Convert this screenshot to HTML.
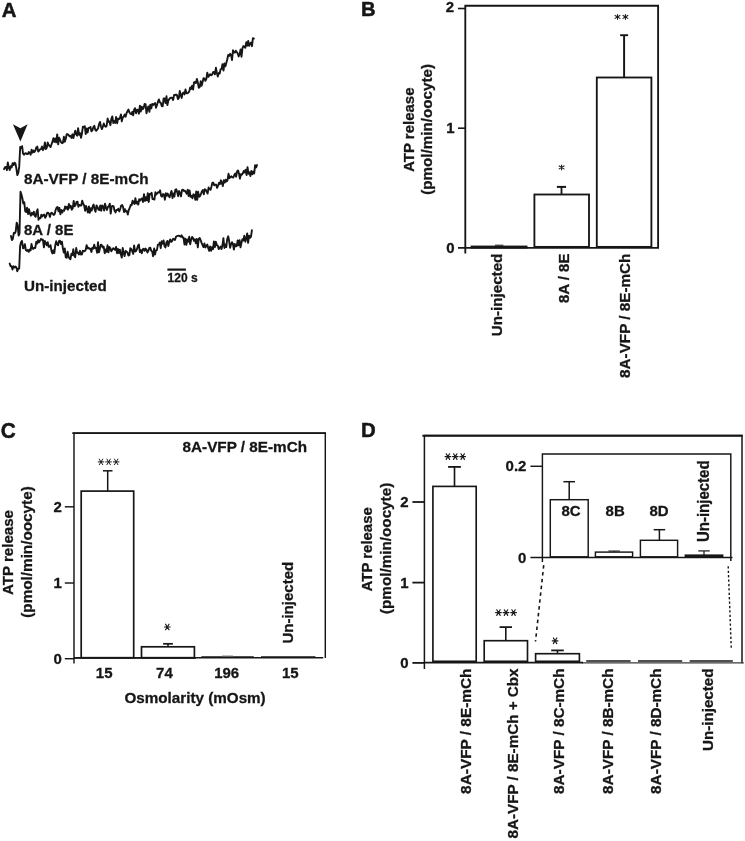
<!DOCTYPE html>
<html><head><meta charset="utf-8"><title>Figure</title>
<style>html,body{margin:0;padding:0;background:#fff}svg{display:block;will-change:transform}text{font-family:"Liberation Sans",sans-serif}</style>
</head><body>
<svg width="745" height="841" viewBox="0 0 745 841">
<rect width="745" height="841" fill="#fff"/>
<text x="1.7" y="16.5" font-size="21.08" font-weight="bold" text-anchor="start" fill="#161616" stroke="#161616" stroke-width="0.5" font-family="Liberation Sans, sans-serif" textLength="14.73" lengthAdjust="spacingAndGlyphs">A</text>
<path d="M4.0 169.2 L5.0 167.2 L5.9 167.0 L6.9 170.2 L7.8 162.5 L8.8 167.8 L9.7 170.0 L10.7 166.1 L11.6 167.5 L12.6 163.2 L13.5 165.1 L14.5 162.7 L15.4 163.5 L16.4 168.6 L17.3 175.1 L18.3 172.8 L19.2 166.9 L20.2 147.0 L21.1 148.0 L22.1 146.2 L23.0 153.4 L24.0 154.8 L24.9 153.4 L25.9 153.3 L26.8 154.0 L27.8 154.1 L28.7 152.0 L29.7 152.9 L30.6 154.7 L31.6 149.8 L32.5 152.7 L33.5 150.5 L34.4 152.0 L35.4 150.4 L36.3 147.5 L37.3 146.6 L38.2 151.6 L39.2 150.5 L40.1 149.4 L41.1 149.0 L42.0 146.6 L43.0 150.2 L43.9 148.2 L44.9 142.5 L45.8 149.1 L46.8 147.7 L47.7 142.5 L48.7 145.0 L49.6 146.0 L50.6 147.0 L51.5 144.3 L52.5 141.7 L53.4 138.2 L54.4 141.9 L55.3 138.5 L56.3 142.4 L57.2 134.4 L58.2 144.4 L59.1 137.7 L60.1 139.8 L61.0 142.1 L62.0 143.1 L62.9 142.9 L63.9 136.6 L64.8 141.8 L65.8 138.7 L66.7 134.2 L67.7 134.1 L68.6 135.0 L69.6 136.4 L70.5 135.9 L71.5 137.9 L72.4 134.3 L73.4 138.0 L74.3 134.2 L75.3 130.6 L76.2 134.4 L77.2 135.7 L78.1 128.1 L79.1 134.9 L80.0 133.2 L81.0 137.7 L81.9 133.7 L82.9 126.7 L83.8 127.2 L84.8 126.2 L85.7 134.0 L86.7 128.4 L87.6 132.5 L88.6 127.9 L89.5 127.9 L90.5 126.9 L91.4 131.4 L92.4 130.4 L93.3 127.3 L94.3 125.8 L95.2 129.6 L96.2 130.8 L97.1 129.7 L98.1 128.2 L99.0 124.4 L100.0 121.9 L100.9 126.2 L101.9 129.1 L102.8 126.8 L103.8 123.5 L104.7 125.9 L105.7 126.8 L106.6 126.1 L107.6 118.5 L108.5 121.9 L109.5 121.5 L110.4 125.2 L111.4 118.5 L112.3 116.4 L113.3 123.0 L114.2 121.0 L115.2 122.9 L116.1 117.0 L117.1 123.2 L118.0 118.7 L119.0 119.1 L119.9 117.9 L120.9 114.4 L121.8 121.4 L122.8 117.2 L123.7 116.6 L124.7 114.5 L125.6 116.7 L126.6 113.0 L127.5 111.3 L128.5 109.5 L129.4 112.5 L130.4 113.7 L131.3 114.2 L132.3 111.8 L133.2 115.4 L134.2 109.3 L135.1 108.2 L136.1 113.2 L137.0 109.9 L138.0 109.6 L138.9 113.7 L139.9 105.7 L140.8 111.6 L141.8 106.6 L142.7 109.2 L143.7 107.9 L144.6 103.9 L145.6 104.4 L146.5 113.2 L147.5 108.5 L148.4 106.4 L149.4 111.8 L150.3 104.6 L151.3 108.3 L152.2 103.9 L153.2 105.0 L154.1 103.9 L155.1 103.1 L156.0 107.8 L157.0 104.9 L157.9 101.9 L158.9 99.4 L159.8 102.3 L160.8 102.8 L161.7 106.0 L162.7 106.2 L163.6 98.5 L164.6 98.4 L165.5 103.0 L166.5 96.3 L167.4 105.1 L168.4 100.4 L169.3 99.1 L170.3 97.9 L171.2 97.7 L172.2 98.0 L173.1 100.0 L174.1 95.0 L175.0 95.1 L176.0 94.5 L176.9 95.0 L177.9 99.1 L178.8 98.2 L179.8 90.9 L180.7 95.1 L181.7 97.9 L182.6 93.3 L183.6 92.6 L184.5 94.4 L185.5 89.4 L186.4 93.3 L187.4 93.3 L188.3 92.7 L189.3 91.4 L190.2 87.5 L191.2 88.9 L192.1 85.8 L193.1 89.6 L194.0 82.3 L195.0 82.0 L195.9 83.1 L196.9 79.0 L197.8 82.4 L198.8 87.8 L199.7 87.2 L200.7 81.1 L201.6 85.8 L202.6 82.0 L203.5 78.1 L204.5 78.6 L205.4 80.8 L206.4 78.6 L207.3 72.6 L208.3 76.9 L209.2 75.4 L210.2 74.2 L211.1 75.3 L212.1 74.7 L213.0 72.2 L214.0 72.0 L214.9 74.3 L215.9 67.8 L216.8 72.5 L217.8 76.5 L218.7 72.9 L219.7 73.5 L220.6 69.3 L221.6 68.9 L222.5 64.1 L223.5 70.6 L224.4 63.5 L225.4 66.3 L226.3 63.0 L227.3 59.3 L228.2 55.0 L229.2 55.9 L230.1 53.8 L231.1 55.0 L232.0 60.1 L233.0 50.3 L233.9 52.5 L234.9 52.6 L235.8 50.7 L236.8 52.1 L237.7 53.5 L238.7 56.5 L239.6 54.1 L240.6 49.4 L241.5 56.7 L242.5 48.1 L243.4 46.0 L244.4 46.9 L245.3 47.8 L246.3 42.1 L247.2 45.7 L248.2 41.0 L249.1 45.9 L250.1 43.4 L251.0 42.6 L252.0 46.2 L252.9 38.2 L253.9 38.6" fill="none" stroke="#161616" stroke-width="1.9" stroke-linejoin="round" stroke-linecap="round"/>
<path d="M11.0 236.0 L11.9 240.1 L12.9 238.6 L13.8 233.0 L14.8 233.2 L15.7 231.5 L16.7 222.6 L17.6 225.1 L18.6 235.5 L19.5 233.6 L20.5 191.7 L21.4 194.4 L22.4 198.3 L23.3 203.5 L24.3 202.3 L25.2 211.2 L26.2 212.1 L27.1 207.8 L28.1 214.1 L29.0 209.2 L30.0 213.7 L30.9 215.7 L31.9 212.8 L32.8 214.6 L33.8 211.7 L34.7 215.6 L35.7 216.8 L36.6 211.6 L37.6 209.3 L38.5 219.7 L39.5 218.0 L40.4 218.3 L41.4 214.6 L42.3 216.6 L43.3 215.0 L44.2 214.6 L45.2 217.8 L46.1 216.3 L47.1 213.0 L48.0 212.7 L49.0 213.7 L49.9 216.9 L50.9 213.4 L51.8 212.8 L52.8 213.7 L53.7 214.9 L54.7 214.1 L55.6 210.0 L56.6 207.6 L57.5 207.0 L58.5 211.4 L59.4 207.8 L60.4 214.4 L61.3 209.9 L62.3 212.5 L63.2 210.4 L64.2 210.7 L65.1 206.4 L66.1 208.7 L67.0 206.8 L68.0 209.7 L68.9 204.0 L69.9 207.7 L70.8 205.8 L71.8 209.7 L72.7 208.3 L73.7 200.9 L74.6 206.4 L75.6 205.0 L76.5 201.9 L77.5 201.6 L78.4 206.9 L79.4 204.9 L80.3 205.5 L81.3 205.5 L82.2 200.6 L83.2 203.7 L84.1 205.3 L85.1 210.7 L86.0 205.9 L87.0 209.2 L87.9 212.6 L88.9 206.4 L89.8 212.8 L90.8 208.1 L91.7 210.6 L92.7 206.4 L93.6 204.5 L94.6 209.3 L95.5 211.8 L96.5 205.4 L97.4 206.7 L98.4 209.6 L99.3 210.0 L100.3 205.5 L101.2 210.9 L102.2 205.4 L103.1 206.4 L104.1 210.6 L105.0 203.6 L106.0 207.6 L106.9 210.0 L107.9 206.9 L108.8 206.4 L109.8 203.7 L110.7 213.6 L111.7 206.3 L112.6 205.9 L113.6 206.3 L114.5 210.6 L115.5 212.4 L116.4 210.0 L117.4 210.1 L118.3 208.8 L119.3 211.4 L120.2 209.0 L121.2 205.5 L122.1 205.0 L123.1 207.2 L124.0 212.1 L125.0 209.2 L125.9 211.5 L126.9 211.3 L127.8 214.6 L128.8 209.8 L129.7 208.0 L130.7 205.0 L131.6 205.3 L132.6 200.7 L133.5 202.6 L134.5 203.9 L135.4 198.1 L136.4 203.6 L137.3 201.7 L138.3 204.6 L139.2 199.2 L140.2 200.6 L141.1 199.1 L142.1 198.4 L143.0 202.0 L144.0 194.2 L144.9 201.0 L145.9 197.1 L146.8 200.3 L147.8 193.3 L148.7 202.0 L149.7 194.0 L150.6 194.3 L151.6 192.7 L152.5 199.1 L153.5 199.0 L154.4 199.6 L155.4 192.3 L156.3 194.5 L157.3 193.1 L158.2 192.2 L159.2 192.6 L160.1 190.3 L161.1 195.8 L162.0 196.7 L163.0 194.0 L163.9 194.5 L164.9 199.7 L165.8 193.2 L166.8 195.8 L167.7 193.6 L168.7 196.0 L169.6 197.2 L170.6 193.8 L171.5 190.9 L172.5 198.1 L173.4 193.4 L174.4 196.5 L175.3 189.9 L176.3 189.2 L177.2 192.3 L178.2 196.2 L179.1 191.0 L180.1 193.4 L181.0 196.4 L182.0 190.2 L182.9 189.7 L183.9 191.0 L184.8 190.6 L185.8 192.1 L186.7 193.7 L187.7 189.7 L188.6 196.1 L189.6 190.5 L190.5 196.9 L191.5 195.8 L192.4 198.3 L193.4 194.3 L194.3 194.8 L195.3 199.9 L196.2 191.5 L197.2 199.9 L198.1 191.8 L199.1 196.7 L200.0 196.2 L201.0 193.9 L201.9 191.4 L202.9 190.1 L203.8 194.3 L204.8 189.2 L205.7 189.8 L206.7 191.6 L207.6 193.6 L208.6 187.4 L209.5 188.9 L210.5 189.9 L211.4 186.7 L212.4 182.8 L213.3 182.6 L214.3 185.3 L215.2 184.6 L216.2 184.8 L217.1 187.9 L218.1 185.7 L219.0 182.8 L220.0 184.1 L220.9 180.3 L221.9 183.0 L222.8 186.1 L223.8 180.1 L224.7 182.6 L225.7 179.7 L226.6 181.5 L227.6 180.0 L228.5 173.8 L229.5 178.0 L230.4 177.0 L231.4 176.3 L232.3 177.3 L233.3 177.5 L234.2 175.3 L235.2 173.6 L236.1 176.7 L237.1 171.4 L238.0 170.4 L239.0 173.5 L239.9 178.7 L240.9 174.2 L241.8 174.8 L242.8 173.4 L243.7 171.0 L244.7 172.4 L245.6 169.8 L246.6 175.1 L247.5 167.2 L248.5 173.7 L249.4 172.3 L250.4 176.1 L251.3 170.9 L252.3 174.3 L253.2 171.6 L254.2 173.5 L255.1 165.2 L256.1 167.5 L257.0 165.1" fill="none" stroke="#161616" stroke-width="1.9" stroke-linejoin="round" stroke-linecap="round"/>
<path d="M9.7 263.6 L10.6 266.3 L11.6 266.3 L12.5 269.5 L13.5 266.2 L14.4 267.5 L15.4 266.6 L16.3 267.3 L17.3 271.3 L18.2 268.6 L19.2 268.5 L20.1 246.1 L21.1 242.0 L22.0 240.9 L23.0 248.4 L23.9 247.8 L24.9 244.1 L25.8 250.0 L26.8 250.9 L27.7 249.9 L28.7 251.8 L29.6 249.6 L30.6 250.4 L31.5 243.9 L32.5 248.6 L33.4 248.9 L34.4 247.6 L35.3 247.9 L36.3 241.7 L37.2 243.6 L38.2 240.1 L39.1 242.3 L40.1 240.6 L41.0 238.8 L42.0 239.8 L42.9 239.7 L43.9 247.4 L44.8 240.9 L45.8 243.2 L46.7 245.2 L47.7 242.2 L48.6 246.8 L49.6 246.9 L50.5 245.2 L51.5 251.1 L52.4 253.4 L53.4 250.3 L54.3 253.1 L55.3 245.2 L56.2 241.3 L57.2 244.4 L58.1 245.3 L59.1 240.9 L60.0 240.7 L61.0 244.0 L61.9 241.7 L62.9 248.3 L63.8 252.5 L64.8 248.5 L65.7 257.2 L66.7 257.8 L67.6 251.7 L68.6 256.8 L69.5 258.4 L70.5 259.2 L71.4 253.6 L72.4 255.1 L73.3 249.3 L74.3 255.9 L75.2 257.2 L76.2 248.0 L77.1 252.9 L78.1 252.8 L79.0 254.5 L80.0 250.8 L80.9 254.6 L81.9 254.4 L82.8 250.8 L83.8 251.3 L84.7 251.0 L85.7 249.9 L86.6 245.1 L87.6 248.4 L88.5 247.7 L89.5 248.8 L90.4 248.6 L91.4 252.0 L92.3 247.7 L93.3 248.7 L94.2 244.8 L95.2 248.1 L96.1 247.9 L97.1 252.7 L98.0 242.3 L99.0 252.3 L99.9 248.6 L100.9 244.6 L101.8 245.3 L102.8 247.6 L103.7 246.6 L104.7 253.2 L105.6 249.5 L106.6 251.8 L107.5 245.3 L108.5 252.3 L109.4 247.0 L110.4 248.4 L111.3 251.3 L112.3 249.8 L113.2 248.2 L114.2 249.0 L115.1 249.9 L116.1 246.9 L117.0 253.2 L118.0 249.0 L118.9 253.1 L119.9 249.6 L120.8 254.3 L121.8 257.6 L122.7 248.0 L123.7 253.3 L124.6 256.1 L125.6 250.9 L126.5 251.6 L127.5 252.5 L128.4 255.6 L129.4 255.0 L130.3 248.3 L131.3 249.0 L132.2 251.1 L133.2 253.8 L134.1 245.5 L135.1 251.5 L136.0 251.2 L137.0 248.9 L137.9 245.9 L138.9 244.5 L139.8 252.0 L140.8 250.1 L141.7 253.2 L142.7 249.4 L143.6 248.8 L144.6 250.8 L145.5 248.6 L146.5 249.7 L147.4 252.5 L148.4 250.8 L149.3 248.0 L150.3 247.7 L151.2 250.6 L152.2 251.6 L153.1 256.2 L154.1 248.5 L155.0 254.6 L156.0 250.4 L156.9 250.1 L157.9 244.7 L158.8 244.6 L159.8 242.6 L160.7 248.2 L161.7 241.2 L162.6 243.7 L163.6 240.5 L164.5 246.2 L165.5 247.4 L166.4 242.5 L167.4 240.9 L168.3 246.0 L169.3 241.8 L170.2 239.4 L171.2 241.9 L172.1 241.0 L173.1 238.8 L174.0 239.2 L175.0 240.0 L175.9 236.9 L176.9 236.2 L177.8 235.9 L178.8 235.7 L179.7 236.0 L180.7 236.7 L181.6 235.3 L182.6 237.5 L183.5 237.4 L184.5 244.6 L185.4 238.8 L186.4 244.9 L187.3 239.5 L188.3 241.7 L189.2 236.8 L190.2 244.3 L191.1 239.9 L192.1 236.9 L193.0 238.1 L194.0 240.8 L194.9 239.3 L195.9 243.2 L196.8 239.0 L197.8 247.4 L198.7 239.1 L199.7 237.9 L200.6 240.0 L201.6 242.9 L202.5 245.0 L203.5 247.1 L204.4 243.4 L205.4 247.5 L206.3 246.3 L207.3 244.6 L208.2 248.1 L209.2 250.8 L210.1 246.4 L211.1 250.9 L212.0 247.1 L213.0 249.2 L213.9 241.4 L214.9 247.2 L215.8 241.8 L216.8 245.1 L217.7 245.6 L218.7 249.1 L219.6 247.8 L220.6 246.5 L221.5 249.1 L222.5 245.1 L223.4 238.1 L224.4 248.0 L225.3 244.5 L226.3 247.1 L227.2 239.0 L228.2 236.3 L229.1 240.8 L230.1 247.8 L231.0 244.4 L232.0 242.2 L232.9 243.8 L233.9 249.6 L234.8 244.0 L235.8 246.4 L236.7 246.1 L237.7 240.4 L238.6 245.2 L239.6 240.2 L240.5 247.4 L241.5 242.8 L242.4 239.2 L243.4 240.4 L244.3 235.8 L245.3 241.7 L246.2 239.0 L247.2 233.5 L248.1 242.8 L249.1 235.6 L250.0 237.8 L251.0 236.6 L251.9 230.1" fill="none" stroke="#161616" stroke-width="1.9" stroke-linejoin="round" stroke-linecap="round"/>
<path d="M12.9 124.2 L20.4 128.3 L27.6 124.2 L20.4 141.6 Z" fill="#161616"/>
<text x="24" y="183.5" font-size="15.5" font-weight="bold" text-anchor="start" fill="#161616" stroke="#161616" stroke-width="0.3" font-family="Liberation Sans, sans-serif" textLength="124.5" lengthAdjust="spacingAndGlyphs">8A-VFP / 8E-mCh</text>
<text x="24" y="235" font-size="15.5" font-weight="bold" text-anchor="start" fill="#161616" stroke="#161616" stroke-width="0.3" font-family="Liberation Sans, sans-serif" textLength="49.47" lengthAdjust="spacingAndGlyphs">8A / 8E</text>
<text x="24" y="291" font-size="15.5" font-weight="bold" text-anchor="start" fill="#161616" stroke="#161616" stroke-width="0.3" font-family="Liberation Sans, sans-serif" textLength="82.7" lengthAdjust="spacingAndGlyphs">Un-injected</text>
<line x1="167.4" y1="269.6" x2="185.9" y2="269.6" stroke="#161616" stroke-width="2.2"/>
<text x="167.6" y="281.8" font-size="12.92" font-weight="bold" text-anchor="start" fill="#161616" stroke="#161616" stroke-width="0.3" font-family="Liberation Sans, sans-serif" textLength="30" lengthAdjust="spacingAndGlyphs">120 s</text>
<text x="360.9" y="16.2" font-size="20.87" font-weight="bold" text-anchor="start" fill="#161616" stroke="#161616" stroke-width="0.5" font-family="Liberation Sans, sans-serif" textLength="14.59" lengthAdjust="spacingAndGlyphs">B</text>
<path d="M465.3 253.4 V5.7 H658.1 V247.6" fill="none" stroke="#161616" stroke-width="1.85"/>
<line x1="458" y1="247.9" x2="659.0" y2="247.9" stroke="#161616" stroke-width="1.6"/>
<line x1="458" y1="8.5" x2="465.3" y2="8.5" stroke="#161616" stroke-width="1.6"/>
<line x1="458" y1="128.2" x2="465.3" y2="128.2" stroke="#161616" stroke-width="1.6"/>
<text x="454.2" y="12.0" font-size="15.5" font-weight="bold" text-anchor="end" fill="#161616" stroke="#161616" stroke-width="0.3" font-family="Liberation Sans, sans-serif" textLength="8.34" lengthAdjust="spacingAndGlyphs">2</text>
<text x="454.5" y="133.2" font-size="15.5" font-weight="bold" text-anchor="end" fill="#161616" stroke="#161616" stroke-width="0.3" font-family="Liberation Sans, sans-serif" textLength="8.34" lengthAdjust="spacingAndGlyphs">1</text>
<text x="454.5" y="252.8" font-size="15.5" font-weight="bold" text-anchor="end" fill="#161616" stroke="#161616" stroke-width="0.3" font-family="Liberation Sans, sans-serif" textLength="8.34" lengthAdjust="spacingAndGlyphs">0</text>
<rect x="470.6" y="245.6" width="56.9" height="2.9" fill="#161616"/>
<line x1="495" y1="245.2" x2="503.4" y2="245.2" stroke="#161616" stroke-width="1.0"/>
<rect x="534.4" y="194.5" width="54.60" height="52.40" fill="#fff" stroke="#161616" stroke-width="1.85"/>
<line x1="561.5" y1="186.9" x2="561.5" y2="194.4" stroke="#161616" stroke-width="1.8"/>
<line x1="556.9" y1="186.9" x2="566.1" y2="186.9" stroke="#161616" stroke-width="2.0"/>
<rect x="596.8" y="77.5" width="54.60" height="169.40" fill="#fff" stroke="#161616" stroke-width="1.85"/>
<line x1="624.1" y1="35.2" x2="624.1" y2="77.5" stroke="#161616" stroke-width="1.95"/>
<line x1="620.1" y1="35.2" x2="628.1" y2="35.2" stroke="#161616" stroke-width="1.9"/>
<g transform="translate(561.6 167.4) rotate(90) scale(0.86)" stroke="#1c1c1c" stroke-width="1.25" stroke-linecap="round" fill="none"><path d="M-2.85 0 H2.85 M-1.7 -2.8 L1.7 2.8 M1.7 -2.8 L-1.7 2.8"/><circle r="0.7" fill="#1c1c1c" stroke="none"/></g>
<g transform="translate(617.5 16.9) rotate(90) scale(0.86)" stroke="#1c1c1c" stroke-width="1.25" stroke-linecap="round" fill="none"><path d="M-2.85 0 H2.85 M-1.7 -2.8 L1.7 2.8 M1.7 -2.8 L-1.7 2.8"/><circle r="0.7" fill="#1c1c1c" stroke="none"/></g>
<g transform="translate(625.4 16.9) rotate(90) scale(0.86)" stroke="#1c1c1c" stroke-width="1.25" stroke-linecap="round" fill="none"><path d="M-2.85 0 H2.85 M-1.7 -2.8 L1.7 2.8 M1.7 -2.8 L-1.7 2.8"/><circle r="0.7" fill="#1c1c1c" stroke="none"/></g>
<text x="414" y="129.7" font-size="15.5" font-weight="bold" text-anchor="middle" fill="#161616" stroke="#161616" stroke-width="0.3" font-family="Liberation Sans, sans-serif" transform="rotate(-90 414 129.7)" textLength="84.5" lengthAdjust="spacingAndGlyphs">ATP release</text>
<text x="432.5" y="129.4" font-size="15.5" font-weight="bold" text-anchor="middle" fill="#161616" stroke="#161616" stroke-width="0.3" font-family="Liberation Sans, sans-serif" transform="rotate(-90 432.5 129.4)" textLength="130.8" lengthAdjust="spacingAndGlyphs">(pmol/min/oocyte)</text>
<text x="502" y="253.6" font-size="15.5" font-weight="bold" text-anchor="end" fill="#161616" stroke="#161616" stroke-width="0.3" font-family="Liberation Sans, sans-serif" transform="rotate(-90 502 253.6)" textLength="82.7" lengthAdjust="spacingAndGlyphs">Un-injected</text>
<text x="568.7" y="253.6" font-size="15.5" font-weight="bold" text-anchor="end" fill="#161616" stroke="#161616" stroke-width="0.3" font-family="Liberation Sans, sans-serif" transform="rotate(-90 568.7 253.6)" textLength="49.47" lengthAdjust="spacingAndGlyphs">8A / 8E</text>
<text x="630.5" y="253.6" font-size="15.5" font-weight="bold" text-anchor="end" fill="#161616" stroke="#161616" stroke-width="0.3" font-family="Liberation Sans, sans-serif" transform="rotate(-90 630.5 253.6)" textLength="124.3" lengthAdjust="spacingAndGlyphs">8A-VFP / 8E-mCh</text>
<text x="0.8" y="437.8" font-size="21.49" font-weight="bold" text-anchor="start" fill="#161616" stroke="#161616" stroke-width="0.5" font-family="Liberation Sans, sans-serif" textLength="15.02" lengthAdjust="spacingAndGlyphs">C</text>
<path d="M74 663.4 V433.1 H325.3 V657.9" fill="none" stroke="#161616" stroke-width="1.45"/>
<line x1="72.3" y1="433.1" x2="326.0" y2="433.1" stroke="#161616" stroke-width="1.85"/>
<line x1="64.8" y1="658.6999999999999" x2="74" y2="658.6999999999999" stroke="#161616" stroke-width="1.45"/>
<line x1="74" y1="657.6999999999999" x2="323.2" y2="657.6999999999999" stroke="#161616" stroke-width="1.45"/>
<line x1="74" y1="657.9" x2="196" y2="657.9" stroke="#161616" stroke-width="1.9"/>
<line x1="64.8" y1="506.8" x2="74" y2="506.8" stroke="#161616" stroke-width="1.45"/>
<line x1="64.8" y1="583" x2="74" y2="583" stroke="#161616" stroke-width="1.45"/>
<text x="61.8" y="512" font-size="15.5" font-weight="bold" text-anchor="end" fill="#161616" stroke="#161616" stroke-width="0.3" font-family="Liberation Sans, sans-serif" textLength="8.34" lengthAdjust="spacingAndGlyphs">2</text>
<text x="61.8" y="588.2" font-size="15.5" font-weight="bold" text-anchor="end" fill="#161616" stroke="#161616" stroke-width="0.3" font-family="Liberation Sans, sans-serif" textLength="8.34" lengthAdjust="spacingAndGlyphs">1</text>
<text x="61.8" y="664.2" font-size="15.5" font-weight="bold" text-anchor="end" fill="#161616" stroke="#161616" stroke-width="0.3" font-family="Liberation Sans, sans-serif" textLength="8.34" lengthAdjust="spacingAndGlyphs">0</text>
<rect x="81.2" y="491.1" width="52.50" height="166.60" fill="#fff" stroke="#161616" stroke-width="1.7"/>
<line x1="107.7" y1="470.8" x2="107.7" y2="491.1" stroke="#161616" stroke-width="1.5"/>
<line x1="102.9" y1="470.8" x2="112.5" y2="470.8" stroke="#161616" stroke-width="1.5"/>
<g transform="translate(101.0 461.9) rotate(0) scale(1)" stroke="#1c1c1c" stroke-width="1.0" stroke-linecap="round" fill="none"><path d="M-2.85 0 H2.85 M-1.7 -2.8 L1.7 2.8 M1.7 -2.8 L-1.7 2.8"/><circle r="0.7" fill="#1c1c1c" stroke="none"/></g>
<g transform="translate(108.6 461.9) rotate(0) scale(1)" stroke="#1c1c1c" stroke-width="1.0" stroke-linecap="round" fill="none"><path d="M-2.85 0 H2.85 M-1.7 -2.8 L1.7 2.8 M1.7 -2.8 L-1.7 2.8"/><circle r="0.7" fill="#1c1c1c" stroke="none"/></g>
<g transform="translate(116.2 461.9) rotate(0) scale(1)" stroke="#1c1c1c" stroke-width="1.0" stroke-linecap="round" fill="none"><path d="M-2.85 0 H2.85 M-1.7 -2.8 L1.7 2.8 M1.7 -2.8 L-1.7 2.8"/><circle r="0.7" fill="#1c1c1c" stroke="none"/></g>
<rect x="141.5" y="646.8" width="52.90" height="10.90" fill="#fff" stroke="#161616" stroke-width="1.7"/>
<line x1="168.0" y1="643.8" x2="168.0" y2="646.8" stroke="#161616" stroke-width="1.5"/>
<line x1="163.1" y1="643.8" x2="172.9" y2="643.8" stroke="#161616" stroke-width="1.7"/>
<g transform="translate(167.3 627) rotate(0) scale(1)" stroke="#1c1c1c" stroke-width="1.2" stroke-linecap="round" fill="none"><path d="M-2.85 0 H2.85 M-1.7 -2.8 L1.7 2.8 M1.7 -2.8 L-1.7 2.8"/><circle r="0.7" fill="#1c1c1c" stroke="none"/></g>
<line x1="201.3" y1="657.2" x2="253.8" y2="657.2" stroke="#161616" stroke-width="1.7"/>
<line x1="261" y1="657.2" x2="315.4" y2="657.2" stroke="#161616" stroke-width="1.7"/>
<line x1="222" y1="656.0" x2="233" y2="656.0" stroke="#777" stroke-width="0.9"/>
<text x="182.6" y="451.5" font-size="15.5" font-weight="bold" text-anchor="start" fill="#161616" stroke="#161616" stroke-width="0.3" font-family="Liberation Sans, sans-serif" textLength="124.4" lengthAdjust="spacingAndGlyphs">8A-VFP / 8E-mCh</text>
<text x="104.2" y="677.6" font-size="15.5" font-weight="bold" text-anchor="middle" fill="#161616" stroke="#161616" stroke-width="0.3" font-family="Liberation Sans, sans-serif" textLength="16.68" lengthAdjust="spacingAndGlyphs">15</text>
<text x="164.4" y="677.6" font-size="15.5" font-weight="bold" text-anchor="middle" fill="#161616" stroke="#161616" stroke-width="0.3" font-family="Liberation Sans, sans-serif" textLength="16.68" lengthAdjust="spacingAndGlyphs">74</text>
<text x="226.7" y="677.6" font-size="15.5" font-weight="bold" text-anchor="middle" fill="#161616" stroke="#161616" stroke-width="0.3" font-family="Liberation Sans, sans-serif" textLength="25.02" lengthAdjust="spacingAndGlyphs">196</text>
<text x="290.3" y="677.6" font-size="15.5" font-weight="bold" text-anchor="middle" fill="#161616" stroke="#161616" stroke-width="0.3" font-family="Liberation Sans, sans-serif" textLength="16.68" lengthAdjust="spacingAndGlyphs">15</text>
<text x="195.1" y="702.8" font-size="15.5" font-weight="bold" text-anchor="middle" fill="#161616" stroke="#161616" stroke-width="0.3" font-family="Liberation Sans, sans-serif" textLength="141.2" lengthAdjust="spacingAndGlyphs">Osmolarity (mOsm)</text>
<text x="292.6" y="643.6" font-size="15.5" font-weight="bold" text-anchor="start" fill="#161616" stroke="#161616" stroke-width="0.3" font-family="Liberation Sans, sans-serif" transform="rotate(-90 292.6 643.6)" textLength="81.8" lengthAdjust="spacingAndGlyphs">Un-injected</text>
<text x="12.5" y="552.5" font-size="15.5" font-weight="bold" text-anchor="middle" fill="#161616" stroke="#161616" stroke-width="0.3" font-family="Liberation Sans, sans-serif" transform="rotate(-90 12.5 552.5)" textLength="85" lengthAdjust="spacingAndGlyphs">ATP release</text>
<text x="32" y="552" font-size="15.5" font-weight="bold" text-anchor="middle" fill="#161616" stroke="#161616" stroke-width="0.3" font-family="Liberation Sans, sans-serif" transform="rotate(-90 32 552)" textLength="131.5" lengthAdjust="spacingAndGlyphs">(pmol/min/oocyte)</text>
<text x="361.0" y="437.4" font-size="21.08" font-weight="bold" text-anchor="start" fill="#161616" stroke="#161616" stroke-width="0.5" font-family="Liberation Sans, sans-serif" textLength="14.73" lengthAdjust="spacingAndGlyphs">D</text>
<path d="M424.4 669.0 V435.4 H742 V663.3" fill="none" stroke="#161616" stroke-width="1.5"/>
<line x1="422.4" y1="435.75" x2="742.7" y2="435.75" stroke="#161616" stroke-width="1.9"/>
<line x1="412.4" y1="662.9" x2="424.4" y2="662.9" stroke="#161616" stroke-width="1.8"/>
<line x1="582" y1="662.8" x2="743.8" y2="662.8" stroke="#3a3a3a" stroke-width="1.15"/>
<line x1="424.4" y1="662.7" x2="583" y2="662.7" stroke="#161616" stroke-width="1.75"/>
<line x1="412.4" y1="502.0" x2="424.4" y2="502.0" stroke="#161616" stroke-width="1.8"/>
<line x1="412.4" y1="582.6" x2="424.4" y2="582.6" stroke="#161616" stroke-width="1.8"/>
<text x="408.6" y="507" font-size="15.5" font-weight="bold" text-anchor="end" fill="#161616" stroke="#161616" stroke-width="0.3" font-family="Liberation Sans, sans-serif" textLength="8.34" lengthAdjust="spacingAndGlyphs">2</text>
<text x="408.6" y="587.8" font-size="15.5" font-weight="bold" text-anchor="end" fill="#161616" stroke="#161616" stroke-width="0.3" font-family="Liberation Sans, sans-serif" textLength="8.34" lengthAdjust="spacingAndGlyphs">1</text>
<text x="408.6" y="668.3" font-size="15.5" font-weight="bold" text-anchor="end" fill="#161616" stroke="#161616" stroke-width="0.3" font-family="Liberation Sans, sans-serif" textLength="8.34" lengthAdjust="spacingAndGlyphs">0</text>
<rect x="432.9" y="486.4" width="43.30" height="174.90" fill="#fff" stroke="#161616" stroke-width="1.65"/>
<line x1="454.5" y1="466.9" x2="454.5" y2="486.4" stroke="#161616" stroke-width="1.65"/>
<line x1="448.1" y1="466.9" x2="460.9" y2="466.9" stroke="#161616" stroke-width="1.8"/>
<g transform="translate(447.9 456.6) rotate(0) scale(1)" stroke="#1c1c1c" stroke-width="1.2" stroke-linecap="round" fill="none"><path d="M-2.85 0 H2.85 M-1.7 -2.8 L1.7 2.8 M1.7 -2.8 L-1.7 2.8"/><circle r="0.7" fill="#1c1c1c" stroke="none"/></g>
<g transform="translate(455.3 456.6) rotate(0) scale(1)" stroke="#1c1c1c" stroke-width="1.2" stroke-linecap="round" fill="none"><path d="M-2.85 0 H2.85 M-1.7 -2.8 L1.7 2.8 M1.7 -2.8 L-1.7 2.8"/><circle r="0.7" fill="#1c1c1c" stroke="none"/></g>
<g transform="translate(462.7 456.6) rotate(0) scale(1)" stroke="#1c1c1c" stroke-width="1.2" stroke-linecap="round" fill="none"><path d="M-2.85 0 H2.85 M-1.7 -2.8 L1.7 2.8 M1.7 -2.8 L-1.7 2.8"/><circle r="0.7" fill="#1c1c1c" stroke="none"/></g>
<rect x="484.2" y="640.7" width="43.30" height="20.60" fill="#fff" stroke="#161616" stroke-width="1.65"/>
<line x1="505.8" y1="627.1" x2="505.8" y2="640.7" stroke="#161616" stroke-width="1.6"/>
<line x1="499.6" y1="627.1" x2="512.0" y2="627.1" stroke="#161616" stroke-width="1.75"/>
<g transform="translate(498.45 612.6) rotate(0) scale(1)" stroke="#1c1c1c" stroke-width="1.2" stroke-linecap="round" fill="none"><path d="M-2.85 0 H2.85 M-1.7 -2.8 L1.7 2.8 M1.7 -2.8 L-1.7 2.8"/><circle r="0.7" fill="#1c1c1c" stroke="none"/></g>
<g transform="translate(506.0 612.6) rotate(0) scale(1)" stroke="#1c1c1c" stroke-width="1.2" stroke-linecap="round" fill="none"><path d="M-2.85 0 H2.85 M-1.7 -2.8 L1.7 2.8 M1.7 -2.8 L-1.7 2.8"/><circle r="0.7" fill="#1c1c1c" stroke="none"/></g>
<g transform="translate(513.55 612.6) rotate(0) scale(1)" stroke="#1c1c1c" stroke-width="1.2" stroke-linecap="round" fill="none"><path d="M-2.85 0 H2.85 M-1.7 -2.8 L1.7 2.8 M1.7 -2.8 L-1.7 2.8"/><circle r="0.7" fill="#1c1c1c" stroke="none"/></g>
<rect x="535.6" y="653.7" width="43.80" height="7.60" fill="#fff" stroke="#161616" stroke-width="1.65"/>
<line x1="557.5" y1="650.4" x2="557.5" y2="653.7" stroke="#161616" stroke-width="1.6"/>
<line x1="551.2" y1="650.4" x2="563.8" y2="650.4" stroke="#161616" stroke-width="1.75"/>
<g transform="translate(555.1 640.8) rotate(0) scale(1)" stroke="#1c1c1c" stroke-width="1.2" stroke-linecap="round" fill="none"><path d="M-2.85 0 H2.85 M-1.7 -2.8 L1.7 2.8 M1.7 -2.8 L-1.7 2.8"/><circle r="0.7" fill="#1c1c1c" stroke="none"/></g>
<line x1="586.2" y1="661.1" x2="630.6" y2="661.1" stroke="#161616" stroke-width="1.5"/>
<line x1="638" y1="661.1" x2="682.2" y2="661.1" stroke="#161616" stroke-width="1.5"/>
<line x1="689.7" y1="661.1" x2="732.8" y2="661.1" stroke="#161616" stroke-width="1.5"/>
<line x1="543.7" y1="565.2" x2="535.5" y2="641.5" stroke="#161616" stroke-width="1.6" stroke-dasharray="3.5 3.35"/>
<line x1="728.2" y1="566.3" x2="731.3" y2="649" stroke="#161616" stroke-width="1.4" stroke-dasharray="2.3 2.1"/>
<g transform="translate(0 0.7)">
<path d="M542.4 561.2 V453.2 H730.8 V560.3000000000001" fill="none" stroke="#161616" stroke-width="1.45"/>
<line x1="530.4" y1="556.7" x2="732.5" y2="556.7" stroke="#161616" stroke-width="1.45"/>
<line x1="530.4" y1="465.6" x2="542.4" y2="465.6" stroke="#161616" stroke-width="1.45"/>
<text x="526.4" y="470.8" font-size="15.5" font-weight="bold" text-anchor="end" fill="#161616" stroke="#161616" stroke-width="0.3" font-family="Liberation Sans, sans-serif" textLength="20.85" lengthAdjust="spacingAndGlyphs">0.2</text>
<text x="526.4" y="561.9" font-size="15.5" font-weight="bold" text-anchor="end" fill="#161616" stroke="#161616" stroke-width="0.3" font-family="Liberation Sans, sans-serif" textLength="8.34" lengthAdjust="spacingAndGlyphs">0</text>
<rect x="550.3" y="499" width="37.90" height="57.10" fill="#fff" stroke="#161616" stroke-width="1.45"/>
<line x1="569.2" y1="481" x2="569.2" y2="499" stroke="#161616" stroke-width="1.5"/>
<line x1="563.4000000000001" y1="481" x2="575.0" y2="481" stroke="#161616" stroke-width="1.5"/>
<rect x="595.4" y="551.4" width="37.20" height="4.70" fill="#fff" stroke="#161616" stroke-width="1.45"/>
<line x1="614.2" y1="550.3" x2="614.2" y2="551.4" stroke="#161616" stroke-width="1.0"/>
<line x1="608.5" y1="550.3" x2="619.9000000000001" y2="550.3" stroke="#161616" stroke-width="1.0"/>
<rect x="640.4" y="539.6" width="37.20" height="16.50" fill="#fff" stroke="#161616" stroke-width="1.45"/>
<line x1="659.4" y1="529" x2="659.4" y2="539.6" stroke="#161616" stroke-width="1.5"/>
<line x1="653.65" y1="529" x2="665.15" y2="529" stroke="#161616" stroke-width="1.5"/>
<rect x="684.6" y="553.7" width="38.8" height="2.6" fill="#161616"/>
<line x1="704" y1="550.2" x2="704" y2="554.2" stroke="#161616" stroke-width="1.2"/>
<line x1="698.25" y1="550.2" x2="709.75" y2="550.2" stroke="#161616" stroke-width="1.2"/>
<text x="571" y="514.9" font-size="15.5" font-weight="bold" text-anchor="middle" fill="#161616" stroke="#161616" stroke-width="0.3" font-family="Liberation Sans, sans-serif" textLength="19.17" lengthAdjust="spacingAndGlyphs">8C</text>
<text x="615.2" y="514.9" font-size="15.5" font-weight="bold" text-anchor="middle" fill="#161616" stroke="#161616" stroke-width="0.3" font-family="Liberation Sans, sans-serif" textLength="19.17" lengthAdjust="spacingAndGlyphs">8B</text>
<text x="659.1" y="514.9" font-size="15.5" font-weight="bold" text-anchor="middle" fill="#161616" stroke="#161616" stroke-width="0.3" font-family="Liberation Sans, sans-serif" textLength="19.17" lengthAdjust="spacingAndGlyphs">8D</text>
<text x="709.3" y="541.4" font-size="15.91" font-weight="bold" text-anchor="start" fill="#161616" stroke="#161616" stroke-width="0.3" font-family="Liberation Sans, sans-serif" transform="rotate(-90 709.3 541.4)" textLength="81.7" lengthAdjust="spacingAndGlyphs">Un-injected</text>
</g>
<text x="372.3" y="549.3" font-size="15.5" font-weight="bold" text-anchor="middle" fill="#161616" stroke="#161616" stroke-width="0.3" font-family="Liberation Sans, sans-serif" transform="rotate(-90 372.3 549.3)" textLength="84.2" lengthAdjust="spacingAndGlyphs">ATP release</text>
<text x="390.6" y="548.4" font-size="15.5" font-weight="bold" text-anchor="middle" fill="#161616" stroke="#161616" stroke-width="0.3" font-family="Liberation Sans, sans-serif" transform="rotate(-90 390.6 548.4)" textLength="131.3" lengthAdjust="spacingAndGlyphs">(pmol/min/oocyte)</text>
<text x="470.6" y="668.5" font-size="15.5" font-weight="bold" text-anchor="end" fill="#161616" stroke="#161616" stroke-width="0.3" font-family="Liberation Sans, sans-serif" transform="rotate(-90 470.6 668.5)" textLength="125.4" lengthAdjust="spacingAndGlyphs">8A-VFP / 8E-mCh</text>
<text x="517.8" y="668.5" font-size="15.5" font-weight="bold" text-anchor="end" fill="#161616" stroke="#161616" stroke-width="0.3" font-family="Liberation Sans, sans-serif" transform="rotate(-90 517.8 668.5)" textLength="170" lengthAdjust="spacingAndGlyphs">8A-VFP / 8E-mCh + Cbx</text>
<text x="564.1" y="668.5" font-size="15.5" font-weight="bold" text-anchor="end" fill="#161616" stroke="#161616" stroke-width="0.3" font-family="Liberation Sans, sans-serif" transform="rotate(-90 564.1 668.5)" textLength="125.4" lengthAdjust="spacingAndGlyphs">8A-VFP / 8C-mCh</text>
<text x="613.4" y="668.5" font-size="15.5" font-weight="bold" text-anchor="end" fill="#161616" stroke="#161616" stroke-width="0.3" font-family="Liberation Sans, sans-serif" transform="rotate(-90 613.4 668.5)" textLength="125.4" lengthAdjust="spacingAndGlyphs">8A-VFP / 8B-mCh</text>
<text x="661.2" y="668.5" font-size="15.5" font-weight="bold" text-anchor="end" fill="#161616" stroke="#161616" stroke-width="0.3" font-family="Liberation Sans, sans-serif" transform="rotate(-90 661.2 668.5)" textLength="125.4" lengthAdjust="spacingAndGlyphs">8A-VFP / 8D-mCh</text>
<text x="713.2" y="668.5" font-size="15.5" font-weight="bold" text-anchor="end" fill="#161616" stroke="#161616" stroke-width="0.3" font-family="Liberation Sans, sans-serif" transform="rotate(-90 713.2 668.5)" textLength="82.5" lengthAdjust="spacingAndGlyphs">Un-injected</text>
</svg>
</body></html>
